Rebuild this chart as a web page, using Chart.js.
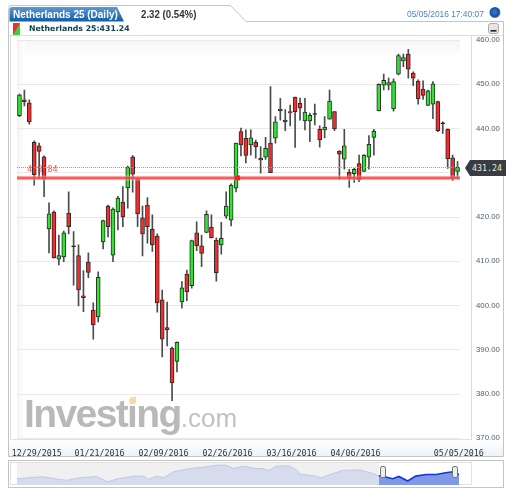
<!DOCTYPE html>
<html><head><meta charset="utf-8">
<script src="https://cdn.jsdelivr.net/npm/chart.js@4"></script>
<style>
html,body{margin:0;padding:0;background:#fff;width:512px;height:494px;overflow:hidden}
.a{position:absolute;box-sizing:border-box}
body{font-family:"Liberation Sans",Arial,sans-serif}
#wrap{position:absolute;left:0;top:0;width:512px;height:494px;filter:blur(.3px)}
canvas{position:absolute}
</style></head><body>
<div id="wrap">
<svg class="a" style="left:0;top:0" width="512" height="494">
  <defs><linearGradient id="tab" x1="0" y1="0" x2="0" y2="1"><stop offset="0" stop-color="#5c9ad2"/><stop offset="1" stop-color="#0f5ca8"/></linearGradient>
  <linearGradient id="strip" x1="0" y1="0" x2="0" y2="1"><stop offset="0" stop-color="#fff"/><stop offset="1" stop-color="#eef3fa"/></linearGradient>
  <linearGradient id="leftf" x1="0" y1="0" x2="1" y2="0"><stop offset="0" stop-color="#f3f3f3"/><stop offset="1" stop-color="#fff"/></linearGradient>
  <linearGradient id="topf" x1="0" y1="0" x2="0" y2="1"><stop offset="0" stop-color="#f5f5f5"/><stop offset="1" stop-color="#fff"/></linearGradient>
  <radialGradient id="ball" cx=".45" cy=".45" r=".6"><stop offset="0" stop-color="#2f7fd6"/><stop offset=".7" stop-color="#1b4f9c"/><stop offset="1" stop-color="#9aa5b5"/></radialGradient></defs>
  <path d="M8.5 456.5V7.5Q8.5 5.5 11 5.5H230.5L246 21.5H503.5V456.5Z" fill="#fff" stroke="#c4c4c4"/>
  <path d="M9.5 21.5V9Q9.5 7 12 7H117L124 21.5Z" fill="url(#tab)"/>
  <line x1="9" x2="503" y1="35.5" y2="35.5" stroke="#dcdcdc"/>
  <line x1="10.5" x2="10.5" y1="36" y2="440" stroke="#dedede"/>
  <rect x="17" y="40" width="443" height="18" fill="url(#topf)"/>
  <rect x="17" y="40" width="8" height="399" fill="url(#leftf)"/>
  <rect x="9" y="439.5" width="494" height="16.5" fill="url(#strip)"/>
  <line x1="471.5" x2="471.5" y1="36" y2="440" stroke="#dcdcdc"/>
  <line x1="11" x2="471" y1="439.5" y2="439.5" stroke="#e2e2e2"/>
  <path d="M13 23H20V35H13Z" fill="#39d339"/><path d="M13 23H20L13 35Z" fill="#f03030"/>
  <circle cx="495" cy="12.5" r="5.5" fill="url(#ball)"/>
  <rect x="488.5" y="23.5" width="10" height="10" rx="2" fill="#e4e4e4" stroke="#aaa"/>
  <rect x="490.5" y="30" width="6" height="1.6" fill="#222"/>
  <rect x="8.5" y="460.5" width="495" height="27" fill="#fff" stroke="#c4c4c4"/>
  <rect x="10.5" y="462.5" width="461" height="22" fill="#fff" stroke="#e2e2e2"/>
  <rect x="17" y="463" width="362" height="21" fill="#f0f0f0"/>
</svg>
<div class="a" style="left:13px;top:8px;font-size:10.5px;font-weight:bold;color:#fff;white-space:nowrap;transform:scaleX(.95);transform-origin:left">Netherlands 25 (Daily)</div>
<div class="a" style="left:141px;top:7.5px;font-size:11px;font-weight:bold;color:#333;white-space:nowrap;transform:scaleX(.88);transform-origin:left">2.32 (0.54%)</div>
<div class="a" style="left:407px;top:8.5px;font-size:9px;color:#4a86c4;white-space:nowrap;transform:scaleX(.93);transform-origin:left">05/05/2016 17:40:07</div>
<div class="a" style="left:29px;top:24px;font-family:'DejaVu Sans',sans-serif;font-size:7.8px;font-weight:bold;color:#12424f;white-space:nowrap">Netherlands 25:431.24</div>
<div class="a" style="left:24px;top:391px;font-size:39px;font-weight:bold;color:#b9b9b9;letter-spacing:-1.6px;white-space:nowrap;line-height:46px">Investing<span style="font-weight:normal;font-size:26px;letter-spacing:0;color:#c2c2c2">.com</span></div>
<div class="a" style="left:130px;top:397px;width:6px;height:7px;background:#f6d9a6;transform:skewY(-12deg)"></div>
<canvas id="main" width="512" height="494" style="left:0;top:0;width:512px;height:494px"></canvas>
<div class="a" style="left:465px;top:160px;width:41px;height:16px;background:#3a3d40;clip-path:polygon(5px 0,100% 0,100% 100%,5px 100%,0 50%);color:#e8e8e8;font:8.3px/16px 'DejaVu Sans Mono',monospace;text-align:right;padding-right:4px;white-space:nowrap">431.24</div>
<canvas id="nav" width="442" height="22" style="left:17px;top:463px;width:442px;height:22px"></canvas>
<div class="a" style="left:380px;top:466px;width:6px;height:12px;background:#eee;border:1px solid #777;border-radius:2px"></div>
<div class="a" style="left:452px;top:466px;width:6px;height:12px;background:#eee;border:1px solid #777;border-radius:2px"></div>
</div>
<script>
const dates=["12/29/2015","12/30/2015","12/31/2015","01/04/2016","01/05/2016","01/06/2016","01/07/2016","01/08/2016","01/11/2016","01/12/2016","01/13/2016","01/14/2016","01/15/2016","01/18/2016","01/19/2016","01/20/2016","01/21/2016","01/22/2016","01/25/2016","01/26/2016","01/27/2016","01/28/2016","01/29/2016","02/01/2016","02/02/2016","02/03/2016","02/04/2016","02/05/2016","02/08/2016","02/09/2016","02/10/2016","02/11/2016","02/12/2016","02/15/2016","02/16/2016","02/17/2016","02/18/2016","02/19/2016","02/22/2016","02/23/2016","02/24/2016","02/25/2016","02/26/2016","02/29/2016","03/01/2016","03/02/2016","03/03/2016","03/04/2016","03/07/2016","03/08/2016","03/09/2016","03/10/2016","03/11/2016","03/14/2016","03/15/2016","03/16/2016","03/17/2016","03/18/2016","03/21/2016","03/22/2016","03/23/2016","03/24/2016","03/29/2016","03/30/2016","03/31/2016","04/01/2016","04/04/2016","04/05/2016","04/06/2016","04/07/2016","04/08/2016","04/11/2016","04/12/2016","04/13/2016","04/14/2016","04/15/2016","04/18/2016","04/19/2016","04/20/2016","04/21/2016","04/22/2016","04/25/2016","04/26/2016","04/27/2016","04/28/2016","04/29/2016","05/02/2016","05/03/2016","05/04/2016","05/05/2016"];
const shownDates=["12/29/2015","01/21/2016","02/09/2016","02/26/2016","03/16/2016","04/06/2016","05/05/2016"];
const opens=[442.9,446.5,445.8,436.9,436.1,433.6,417.3,421.1,410.5,411.0,420.9,413.5,411.3,402.2,409.8,399.0,397.4,414.4,422.5,411.4,421.2,423.4,426.6,433.6,428.6,419.8,422.7,417.3,415.7,401.3,395.0,390.4,387.4,400.8,407.1,404.5,416.4,413.5,416.5,417.7,414.8,413.7,420.2,419.3,426.5,439.3,437.8,436.3,436.9,433.3,433.5,436.7,437.8,444.4,441.5,443.8,447.1,445.7,441.7,441.7,443.4,439.8,439.7,442.1,443.8,434.9,433.1,430.1,429.8,432.1,430.3,433.5,438.0,444.0,449.8,449.8,444.4,452.3,455.3,456.8,452.5,450.7,448.9,445.2,445.5,446.1,441.3,439.8,433.4,430.3];
const highs=[447.8,448.7,446.5,437.2,436.7,433.8,423.2,421.4,415.9,416.8,425.7,416.7,413.7,407.9,411.9,400.6,407.6,419.3,422.7,422.1,424.7,426.9,431.5,433.9,428.8,422.5,424.4,420.5,416.2,403.5,400.8,390.6,391.8,405.4,408.0,414.8,418.9,415.9,421.4,420.5,415.3,418.8,425.7,427.5,436.7,440.1,439.7,439.7,437.4,435.9,438.0,449.5,442.7,446.8,444.3,445.3,447.1,446.9,446.8,443.5,445.5,440.6,442.7,448.7,443.9,435.0,439.8,430.8,431.0,434.0,434.1,438.4,439.8,450.1,452.3,451.4,451.2,456.8,456.8,457.9,452.8,451.0,450.8,448.7,450.6,446.2,441.5,439.9,434.0,432.5];
const lows=[442.7,445.1,441.0,427.2,428.8,424.6,411.9,410.7,409.2,409.9,416.2,404.6,399.9,398.6,406.3,392.4,396.3,412.8,415.5,409.9,417.1,417.8,422.0,425.6,417.8,411.2,414.1,412.2,398.5,388.4,390.9,378.5,385.0,399.4,401.1,403.9,412.4,408.8,416.4,415.3,405.5,411.6,419.7,418.0,425.7,433.8,432.2,434.0,433.3,429.9,433.0,430.0,436.7,441.9,439.5,440.6,435.7,441.9,439.7,437.0,440.8,435.8,437.9,442.1,439.5,428.5,430.8,426.7,427.8,428.0,430.3,430.8,434.0,444.0,448.7,448.7,443.9,452.1,454.0,451.4,449.7,445.5,446.6,445.2,442.2,439.3,438.9,431.0,428.2,428.9];
const closes=[447.6,446.0,441.5,429.5,434.8,428.6,420.7,410.8,411.3,416.4,417.8,413.3,403.5,401.8,407.5,395.6,406.4,419.2,417.8,421.8,424.3,420.0,431.3,429.7,420.7,416.2,417.8,413.7,400.6,392.4,394.5,382.5,391.7,404.0,403.1,414.7,413.5,411.8,420.6,415.3,407.4,415.2,422.5,427.2,436.7,436.3,433.9,437.9,435.9,432.9,435.5,430.0,441.5,444.0,441.9,443.5,443.8,444.6,443.7,443.0,443.2,437.4,440.3,446.2,439.9,434.2,436.1,428.8,430.8,428.4,434.0,436.4,439.4,450.0,450.9,450.4,450.6,456.5,456.0,453.4,451.4,446.7,447.5,448.5,450.1,439.5,441.1,433.2,428.8,431.24];
const supportLevel=428.84;
const lastPrice=431.24;
const hiddenYTick=430;
const navSessions=[0,18,30,41,56,71,90,103,113,132,143,149,158,166,177,196,215,226,237,245,256,270,278,285,293,308,317,321,334,344,357,368,387,400,409,417,425,432,442,451,463,474,485,493,500];
const navValues=[395.5,406.5,411.9,398.3,381.9,403.7,414.7,370.9,392.8,417.4,417.4,390.1,417.4,403.7,452.9,480.3,493.9,507.6,507.6,480.3,499.4,480.3,480.3,463.9,499.4,502.1,463.9,431.1,422.9,403.7,436.5,463.9,469.3,444.7,420.1,409.2,395.5,414.7,376.4,417.4,431.1,431.1,444.7,452.9,431.2];
const navStart=409;

const RED='#f42c2c',GREEN='#2fe32f',DOJI='#111';
const isDoji=(o,c)=>Math.abs(o-c)<0.25;
const bodyColors=opens.map((o,i)=>isDoji(o,closes[i])?DOJI:(closes[i]>o?GREEN:RED));

const overlay={
  id:'overlay',
  beforeDraw(chart){
    const sx=chart.scales.x;
    sx.getLabelItems().forEach(it=>{
      const half=25;
      it.options.translation[0]=Math.min(Math.max(it.options.translation[0]+1.3,half+11.7),463);
    });
  },
  afterDatasetsDraw(chart){
    const {ctx,chartArea:a,scales:{x,y}}=chart;
    ctx.save();
    const yl=y.getPixelForValue(lastPrice);
    ctx.strokeStyle='#9a9a9a';ctx.lineWidth=1;ctx.setLineDash([1,1]);
    ctx.beginPath();ctx.moveTo(a.left,Math.round(yl)+.5);ctx.lineTo(a.right,Math.round(yl)+.5);ctx.stroke();
    ctx.setLineDash([]);
    const ys=y.getPixelForValue(supportLevel);
    ctx.strokeStyle='rgba(255,235,235,.9)';ctx.lineWidth=5;
    ctx.globalAlpha=.5;ctx.beginPath();ctx.moveTo(a.left,ys);ctx.lineTo(a.right,ys);ctx.stroke();
    ctx.globalAlpha=1;
    ctx.strokeStyle='rgba(250,50,50,.78)';ctx.lineWidth=3;
    ctx.beginPath();ctx.moveTo(a.left,ys);ctx.lineTo(a.right,ys);ctx.stroke();
    ctx.fillStyle='#f82020';
    ctx.fillRect(x.getPixelForValue(44)-1,ys-2.5,5,5);
    ctx.fillStyle='rgba(240,50,50,.8)';
    ctx.font="8.5px 'DejaVu Sans Mono',monospace";
    ctx.textBaseline='middle';ctx.textAlign='left';
    ctx.fillText(supportLevel.toFixed(2),27,169.5);
    ctx.restore();
  }
};

new Chart(document.getElementById('main'),{
  type:'bar',
  data:{labels:dates,datasets:[
    {label:'High-Low',data:lows.map((l,i)=>[l,highs[i]]),backgroundColor:'#4c4c4c',barThickness:1,grouped:false,order:2},
    {label:'Netherlands 25',data:opens.map((o,i)=>[Math.min(o,closes[i]),Math.max(o,closes[i])]),backgroundColor:bodyColors,borderColor:'#2a2a2a',borderWidth:1,borderSkipped:false,barThickness:4,grouped:false,order:1}
  ]},
  plugins:[overlay],
  options:{
    responsive:false,animation:false,devicePixelRatio:1,
    layout:{autoPadding:false,padding:{left:17,top:40,right:0,bottom:0}},
    plugins:{legend:{display:false},tooltip:{enabled:false}},
    scales:{
      x:{offset:true,grid:{display:false},border:{display:false},
        afterFit(s){s.height=55.7;s.paddingLeft=0;s.paddingRight=0;},
        ticks:{autoSkip:false,maxRotation:0,minRotation:0,padding:3,color:'#2c3338',font:{family:"'DejaVu Sans Mono',monospace",size:8.3},
          callback(v){const d=dates[v];return shownDates.includes(d)?d:'';}}},
      y:{position:'right',min:370,max:460,grid:{color:'#e9e9e9',drawTicks:false},border:{display:false},
        afterFit(s){s.width=52;s.paddingTop=0;s.paddingBottom=0;},
        ticks:{stepSize:10,padding:16,color:'#4d6270',font:{family:"'Liberation Sans',sans-serif",size:7.8},
          callback(v){return v===hiddenYTick?'':v.toFixed(2);}}}
    }
  }
});

const pts=navSessions.map((s,i)=>({x:s,y:navValues[i]}));
new Chart(document.getElementById('nav'),{
  type:'line',
  data:{datasets:[
    {data:pts.filter(p=>p.x<=navStart),borderColor:'#bcc8e8',borderWidth:1,backgroundColor:'#d6dcec',fill:'start',pointRadius:0,tension:0},
    {data:pts.filter(p=>p.x>=navStart),borderColor:'#1238d8',borderWidth:1.6,backgroundColor:'#7f99e6',fill:'start',pointRadius:0,tension:0}
  ]},
  options:{responsive:false,animation:false,devicePixelRatio:1,layout:{padding:0},
    plugins:{legend:{display:false},tooltip:{enabled:false}},
    scales:{x:{type:'linear',min:0,max:500,display:false},y:{min:343.6,max:526,display:false}}}
});
</script>
</body></html>
